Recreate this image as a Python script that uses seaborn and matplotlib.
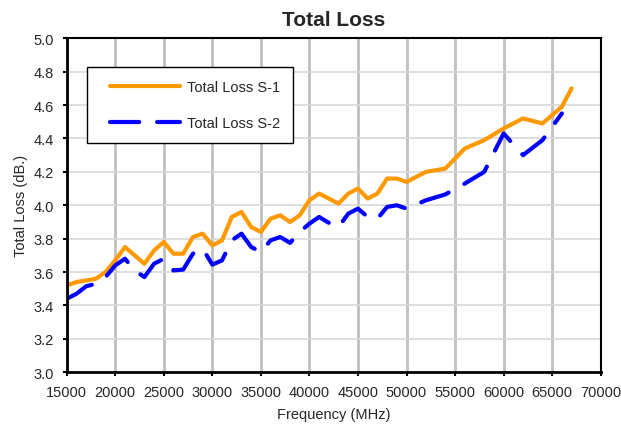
import pandas as pd
import matplotlib
matplotlib.use('Agg')
import matplotlib.pyplot as plt
from matplotlib.lines import Line2D
from matplotlib.legend_handler import HandlerLine2D
import seaborn as sns

# Data
freq_s1 = [15000, 16000, 17000, 18000, 19000, 20000, 21000, 22000, 23000, 24000,
           25000, 26000, 27000, 28000, 29000, 30000, 31000, 32000, 33000, 34000,
           35000, 36000, 37000, 38000, 39000, 40000, 41000, 42000, 43000, 44000,
           45000, 46000, 47000, 48000, 49000, 50000, 52000, 54000, 56000, 58000,
           60000, 62000, 64000, 66000, 67000]
loss_s1 = [3.52, 3.54, 3.55, 3.56, 3.60, 3.67, 3.75, 3.70, 3.65, 3.73,
           3.78, 3.71, 3.71, 3.81, 3.83, 3.76, 3.79, 3.93, 3.96, 3.87,
           3.84, 3.92, 3.94, 3.90, 3.94, 4.03, 4.07, 4.04, 4.01, 4.07,
           4.10, 4.04, 4.07, 4.16, 4.16, 4.14, 4.20, 4.22, 4.34, 4.39,
           4.46, 4.52, 4.49, 4.59, 4.70]

freq_s2 = [15000, 16000, 17000, 18000, 19000, 20000, 21000, 22000, 23000, 24000,
           25000, 26000, 27000, 28000, 29000, 30000, 31000, 32000, 33000, 34000,
           35000, 36000, 37000, 38000, 39000, 40000, 41000, 42000, 43000, 44000,
           45000, 46000, 47000, 48000, 49000, 50000, 52000, 54000, 56000, 58000,
           60000, 62000, 64000, 66000]
loss_s2 = [3.44, 3.47, 3.515, 3.53, 3.57, 3.64, 3.68, 3.61, 3.57, 3.65,
           3.68, 3.61, 3.615, 3.71, 3.74, 3.645, 3.67, 3.79, 3.83, 3.75,
           3.72, 3.79, 3.81, 3.775, 3.84, 3.89, 3.93, 3.895, 3.87, 3.95,
           3.98, 3.93, 3.92, 3.99, 4.00, 3.98, 4.03, 4.065, 4.13, 4.20,
           4.43, 4.30, 4.39, 4.55]

x_ticks = list(range(15000, 70001, 5000))
y_ticks = [3.0, 3.2, 3.4, 3.6, 3.8, 4.0, 4.2, 4.4, 4.6, 4.8, 5.0]

df1 = pd.DataFrame({'Frequency': freq_s1, 'Loss': loss_s1})
df2 = pd.DataFrame({'Frequency': freq_s2, 'Loss': loss_s2})

sns.set_style('white')
plt.rcParams['font.family'] = ['Liberation Sans', 'DejaVu Sans']

fig = plt.figure(figsize=(6.21, 4.27), dpi=100)
ax = fig.add_axes([0.1074, 0.1258, 0.8599, 0.7822])

sns.lineplot(data=df1, x='Frequency', y='Loss', ax=ax, color='#FF9900',
             linewidth=3, label='Total Loss S-1', solid_capstyle='round',
             solid_joinstyle='round')
sns.lineplot(data=df2, x='Frequency', y='Loss', ax=ax, color='#0000FF',
             linewidth=3, label='Total Loss S-2', linestyle=(0, (7, 4.3)),
             dash_capstyle='round', dash_joinstyle='round')

ax.set_xlim(15000, 70000)
ax.set_ylim(3.0, 5.0)
ax.set_xticks(x_ticks)
ax.set_yticks(y_ticks)
ax.set_yticklabels([f'{v:.1f}' for v in y_ticks])

# Gridlines: vertical darker, horizontal lighter
ax.xaxis.grid(True, color='#c0c0c0', linewidth=2)
ax.yaxis.grid(True, color='#d9d9d9', linewidth=1.2)
ax.set_axisbelow(True)

for side in ['left', 'bottom']:
    ax.spines[side].set_color('black')
    ax.spines[side].set_linewidth(2)
for side in ['top', 'right']:
    ax.spines[side].set_color('black')
    ax.spines[side].set_linewidth(1.5)

ax.tick_params(axis='both', direction='out', length=3, width=1.5,
               color='black', labelsize=10.5, bottom=True, left=True)
ax.tick_params(axis='x', pad=6)
ax.tick_params(axis='y', pad=6)

ax.set_title('Total Loss', fontsize=15, fontweight='bold', pad=9.5)
ax.set_xlabel('Frequency (MHz)', fontsize=10.5, labelpad=6)
ax.set_ylabel('Total Loss (dB.)', fontsize=10.5, labelpad=4)

leg = ax.legend(loc='upper left', bbox_to_anchor=(0.0386, 0.913),
                borderaxespad=0, fontsize=10.5, handlelength=5.45,
                labelspacing=1.5, borderpad=0.9, handletextpad=0.5,
                fancybox=False, framealpha=1, edgecolor='black',
                handler_map={Line2D: HandlerLine2D(xpad=0.65)})
leg.get_frame().set_linewidth(1)

fig.savefig('out.png', dpi=100)
